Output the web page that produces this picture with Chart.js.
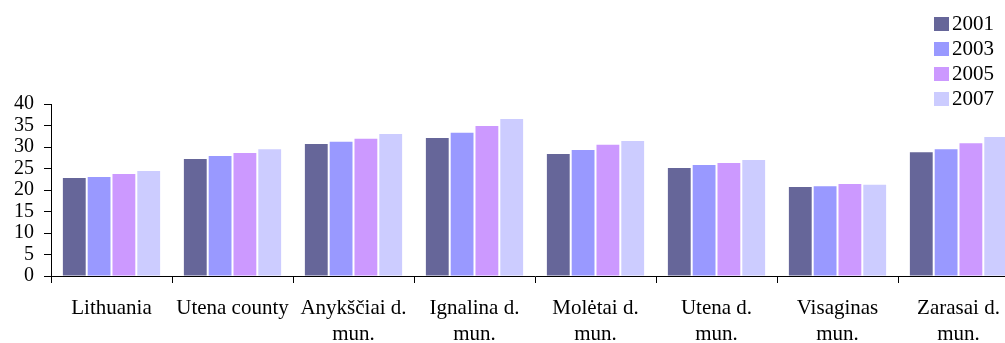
<!DOCTYPE html>
<html>
<head>
<meta charset="utf-8">
<script src="https://cdn.jsdelivr.net/npm/chart.js@4"></script>
<style>
  html, body { margin: 0; padding: 0; background: #fff; overflow: hidden; }
  #wrap { position: relative; width: 1020px; height: 343px; }
  #legend { position: absolute; left: 934px; top: 11px; font: 21px "Liberation Serif", serif; color: #000; }
  #legend div { height: 25px; display: flex; align-items: center; }
  #legend span.box { display: inline-block; width: 15px; height: 14px; margin-right: 3px; }
</style>
</head>
<body>
<div id="wrap">
  <canvas id="chart"></canvas>
  <div id="legend"></div>
</div>
<script>
// Categories (x axis)
const categories = [
    "Lithuania",
    "Utena county",
    ["Anykščiai d.", "mun."],
    ["Ignalina d.", "mun."],
    ["Molėtai d.", "mun."],
    ["Utena d.", "mun."],
    ["Visaginas", "mun."],
    ["Zarasai d.", "mun."],
];

// Series values
const years = ["2001", "2003", "2005", "2007"];
const values2001 = [22.8, 27.2, 30.7, 32.1, 28.4, 25.1, 20.7, 28.8];
const values2003 = [23.0, 27.9, 31.2, 33.3, 29.3, 25.8, 20.9, 29.5];
const values2005 = [23.7, 28.6, 31.9, 34.9, 30.5, 26.3, 21.4, 30.9];
const values2007 = [24.4, 29.5, 33.0, 36.5, 31.4, 27.0, 21.2, 32.3];
const colors = ["#666699", "#9999FF", "#CC99FF", "#CCCCFF"];

const seriesValues = [values2001, values2003, values2005, values2007];

const serif = "'Liberation Serif', serif";

// Legend
const legendEl = document.getElementById("legend");
years.forEach((y, i) => {
    const row = document.createElement("div");
    row.innerHTML = '<span class="box" style="background:' + colors[i] + '"></span>' + y;
    legendEl.appendChild(row);
});

const ctx = document.getElementById("chart").getContext("2d");
new Chart(ctx, {
    type: "bar",
    data: {
        labels: categories,
        datasets: years.map((y, i) => ({
            label: y,
            data: seriesValues[i],
            backgroundColor: colors[i],
            categoryPercentage: 0.82,
            barPercentage: 0.92,
        })),
    },
    options: {
        responsive: true,
        maintainAspectRatio: false,
        animation: false,
        layout: { padding: { top: 104, right: 1, left: 0, bottom: 0 } },
        plugins: {
            legend: { display: false },
            tooltip: { enabled: false },
        },
        scales: {
            x: {
                grid: {
                    offset: true,
                    drawOnChartArea: false,
                    tickLength: 7,
                    color: "#000",
                },
                border: { color: "#000", width: 1 },
                ticks: {
                    color: "#000",
                    font: { family: serif, size: 21, lineHeight: 1.24 },
                    padding: 12,
                    maxRotation: 0,
                    autoSkip: false,
                },
                afterFit: (scale) => { scale.height = 67; },
            },
            y: {
                min: 0,
                max: 40,
                ticks: {
                    stepSize: 5,
                    autoSkip: false,
                    color: "#000",
                    font: { family: serif, size: 20 },
                    padding: 10,
                },
                grid: {
                    drawOnChartArea: false,
                    tickLength: 7,
                    color: "#000",
                },
                border: { color: "#000", width: 1 },
                afterFit: (scale) => { scale.width = 51; },
            },
        },
    },
});
</script>
</body>
</html>
